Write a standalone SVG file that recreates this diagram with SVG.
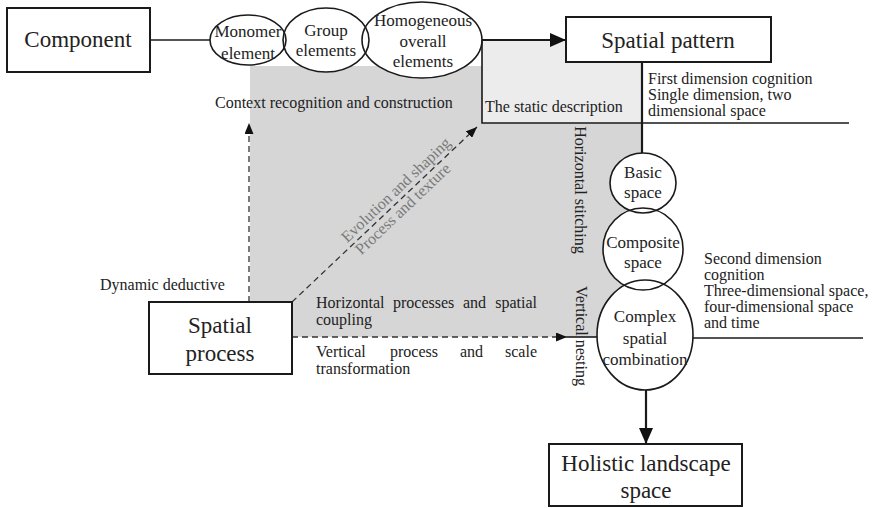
<svg xmlns="http://www.w3.org/2000/svg" width="877" height="508" viewBox="0 0 877 508" font-family="'Liberation Serif', 'Times New Roman', serif">
  <style>
    text { font-family: "Liberation Serif", "Times New Roman", serif; fill: #222; }
    .big { font-size: 23px; }
    .mid { font-size: 17px; }
    .sm { font-size: 16px; }
    .diag { font-size: 16px; fill: #7a7a7a; }
    .box { fill: #fff; stroke: #1a1a1a; stroke-width: 2; }
    .oval { fill: none; stroke: #1a1a1a; stroke-width: 1.6; }
    .ovalbg { fill: #fff; stroke: none; }
    .solid { fill: none; stroke: #1a1a1a; stroke-width: 1.6; }
    .thick { fill: none; stroke: #1a1a1a; stroke-width: 2.2; }
    .dash { fill: none; stroke: #333; stroke-width: 1.3; stroke-dasharray: 6 4; }
  </style>
  <defs>
    <marker id="arrowBig" markerUnits="userSpaceOnUse" markerWidth="16" markerHeight="14" refX="16" refY="7" orient="auto">
      <path d="M0,0 L16,7 L0,14 Z" fill="#111"/>
    </marker>
    <marker id="arrowSmall" markerUnits="userSpaceOnUse" markerWidth="11" markerHeight="9" refX="11" refY="4.5" orient="auto">
      <path d="M0,0 L11,4.5 L0,9 Z" fill="#111"/>
    </marker>
  </defs>

  <rect width="877" height="508" fill="#fff"/>

  <!-- shaded areas -->
  <g id="areas">
    <rect x="250" y="66" width="392" height="271" fill="#d6d6d6"/>
    <rect x="482" y="40" width="160" height="83" fill="#ececec"/>
  </g>

  <!-- white fills under the outlined ovals, so crossing outlines stay visible -->
  <g id="oval-fills">
    <ellipse class="ovalbg" cx="248" cy="40" rx="38" ry="25"/>
    <ellipse class="ovalbg" cx="326" cy="40" rx="43" ry="32"/>
    <ellipse class="ovalbg" cx="422" cy="40" rx="60" ry="38"/>
    <ellipse class="ovalbg" cx="643" cy="183" rx="33" ry="30"/>
    <ellipse class="ovalbg" cx="643" cy="249" rx="40" ry="41"/>
    <ellipse class="ovalbg" cx="645" cy="335" rx="48" ry="55"/>
  </g>

  <!-- connectors -->
  <g id="connectors">
    <line class="solid" x1="150" y1="40" x2="210" y2="40"/>
    <line class="thick" x1="482" y1="40" x2="566" y2="40" marker-end="url(#arrowBig)"/>
    <polyline class="solid" points="482,40 482,123 849,123"/>
    <line class="thick" x1="642" y1="62" x2="642" y2="153"/>
    <line class="solid" x1="693" y1="338" x2="863" y2="338"/>
    <line class="thick" x1="646" y1="390" x2="646" y2="444" marker-end="url(#arrowBig)"/>
    <line class="dash" x1="249" y1="302" x2="249" y2="123" marker-end="url(#arrowSmall)"/>
    <line class="dash" x1="292" y1="302" x2="477" y2="127" marker-end="url(#arrowSmall)"/>
    <line class="dash" x1="292" y1="337" x2="567" y2="337" marker-end="url(#arrowSmall)"/>
    <line class="solid" x1="567" y1="337" x2="597" y2="337"/>
  </g>

  <!-- nodes -->
  <g id="component">
    <rect class="box" x="7" y="8" width="143" height="64"/>
    <text class="big" x="78" y="47" text-anchor="middle">Component</text>
  </g>

  <g id="monomer-element">
    <ellipse class="oval" cx="248" cy="40" rx="38" ry="25"/>
    <text class="mid" x="248" y="37" text-anchor="middle">Monomer</text>
    <text class="mid" x="248" y="59" text-anchor="middle">element</text>
  </g>

  <g id="group-elements">
    <ellipse class="oval" cx="326" cy="40" rx="43" ry="32"/>
    <text class="mid" x="326" y="36" text-anchor="middle">Group</text>
    <text class="mid" x="326" y="56" text-anchor="middle">elements</text>
  </g>

  <g id="homogeneous-elements">
    <ellipse class="oval" cx="422" cy="40" rx="60" ry="38"/>
    <text class="mid" x="423" y="26" text-anchor="middle">Homogeneous</text>
    <text class="mid" x="423" y="47" text-anchor="middle">overall</text>
    <text class="mid" x="423" y="67" text-anchor="middle">elements</text>
  </g>

  <g id="spatial-pattern">
    <rect class="box" x="566" y="17" width="205" height="45"/>
    <text class="big" x="668" y="48" text-anchor="middle">Spatial pattern</text>
  </g>

  <g id="basic-space">
    <ellipse class="oval" cx="643" cy="183" rx="33" ry="30"/>
    <text class="mid" x="643" y="178" text-anchor="middle">Basic</text>
    <text class="mid" x="643" y="198" text-anchor="middle">space</text>
  </g>

  <g id="composite-space">
    <ellipse class="oval" cx="643" cy="249" rx="40" ry="41"/>
    <text class="mid" x="643" y="248" text-anchor="middle">Composite</text>
    <text class="mid" x="643" y="268" text-anchor="middle">space</text>
  </g>

  <g id="complex-combination">
    <ellipse class="oval" cx="645" cy="335" rx="48" ry="55"/>
    <text class="mid" x="645" y="322" text-anchor="middle">Complex</text>
    <text class="mid" x="645" y="344" text-anchor="middle">spatial</text>
    <text class="mid" x="645" y="365" text-anchor="middle">combination</text>
  </g>

  <g id="spatial-process">
    <rect class="box" x="149" y="302" width="143" height="72"/>
    <text class="big" x="220" y="333" text-anchor="middle">Spatial</text>
    <text class="big" x="220" y="361" text-anchor="middle">process</text>
  </g>

  <g id="holistic-landscape">
    <rect class="box" x="549" y="444" width="193" height="62"/>
    <text class="big" x="646" y="471" text-anchor="middle">Holistic landscape</text>
    <text class="big" x="646" y="498" text-anchor="middle">space</text>
  </g>

  <!-- labels -->
  <g id="labels">
    <text class="sm" x="215" y="108">Context recognition and construction</text>
    <text class="sm" x="485" y="112">The static description</text>
    <text class="sm" x="648" y="84">First dimension cognition</text>
    <text class="sm" x="648" y="100">Single dimension, two</text>
    <text class="sm" x="648" y="116">dimensional space</text>

    <text class="sm" x="704" y="264">Second dimension</text>
    <text class="sm" x="704" y="280">cognition</text>
    <text class="sm" x="704" y="296">Three-dimensional space,</text>
    <text class="sm" x="704" y="312">four-dimensional space</text>
    <text class="sm" x="704" y="328">and time</text>

    <text class="sm" x="100" y="290">Dynamic deductive</text>

    <!-- justified two-line labels: words placed one by one -->
    <text class="sm" x="316" y="308">Horizontal</text>
    <text class="sm" x="393" y="308">processes</text>
    <text class="sm" x="463" y="308">and</text>
    <text class="sm" x="537" y="308" text-anchor="end">spatial</text>
    <text class="sm" x="316" y="325">coupling</text>

    <text class="sm" x="316" y="357">Vertical</text>
    <text class="sm" x="390" y="357">process</text>
    <text class="sm" x="460" y="357">and</text>
    <text class="sm" x="537" y="357" text-anchor="end">scale</text>
    <text class="sm" x="316" y="374">transformation</text>

    <text class="sm" transform="translate(580,190) rotate(90)" x="0" y="5" text-anchor="middle">Horizontal stitching</text>
    <text class="sm" transform="translate(581,336) rotate(90)" x="0" y="5" text-anchor="middle">Vertical nesting</text>

    <text class="diag" transform="translate(396,190) rotate(-43.5)" x="0" y="5" text-anchor="middle">Evolution and shaping</text>
    <text class="diag" transform="translate(403,209) rotate(-43.5)" x="0" y="5" text-anchor="middle">Process and texture</text>
  </g>
</svg>
